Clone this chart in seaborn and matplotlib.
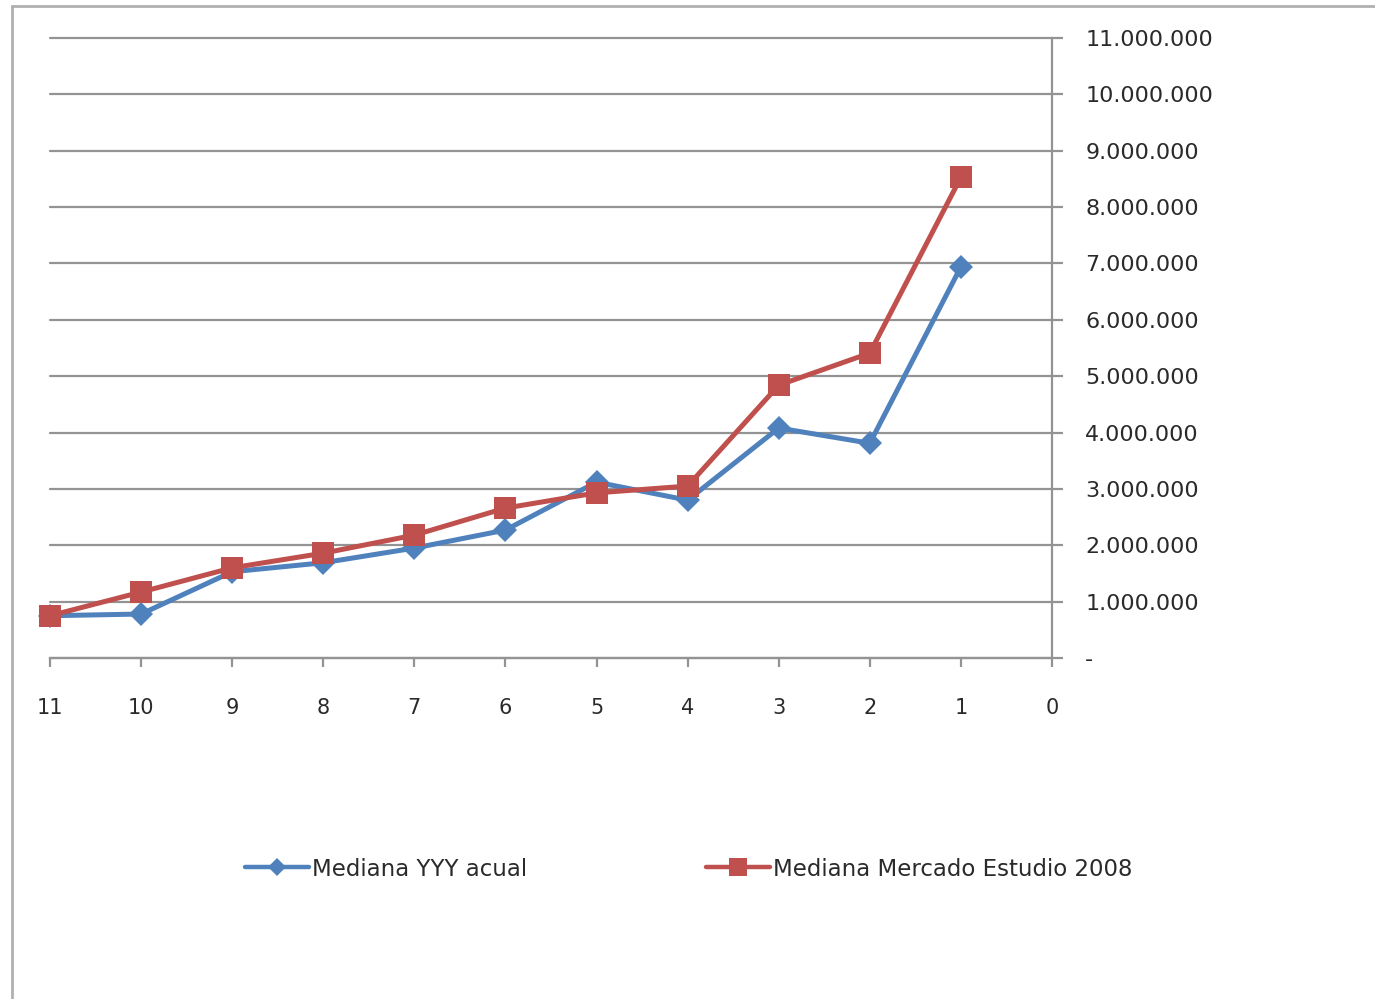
import matplotlib
matplotlib.use("Agg")
import matplotlib.pyplot as plt
from matplotlib.lines import Line2D
from matplotlib.ticker import FuncFormatter, FixedLocator
import pandas as pd
import seaborn as sns

# Periods counted backwards (11 -> 1) and the two medians per period
periodos = [11, 10, 9, 8, 7, 6, 5, 4, 3, 2, 1]
mediana_yyy = [750000, 780000, 1530000, 1690000, 1950000, 2270000,
               3120000, 2800000, 4080000, 3810000, 6940000]
mediana_mercado = [750000, 1170000, 1600000, 1860000, 2180000, 2660000,
                   2930000, 3050000, 4840000, 5410000, 8530000]
series = ["Mediana YYY acual", "Mediana Mercado Estudio 2008"]
x_ticks = [11, 10, 9, 8, 7, 6, 5, 4, 3, 2, 1, 0]
y_ticks = [0, 1000000, 2000000, 3000000, 4000000, 5000000, 6000000,
           7000000, 8000000, 9000000, 10000000, 11000000]

sns.set_theme(style="white")
plt.rcParams["font.family"] = ["DejaVu Sans"]

TEXT = "#2a2a2a"
GRID = "#939393"
BLUE = "#4F81BD"
RED = "#C0504D"

df = pd.DataFrame({
    "periodo": periodos * 2,
    "valor": mediana_yyy + mediana_mercado,
    "serie": [series[0]] * len(periodos) + [series[1]] * len(periodos),
})

W, H = 1375, 999
fig = plt.figure(figsize=(W / 100, H / 100), dpi=100)
ax = fig.add_axes([50 / W, 341 / H, 1002 / W, 620 / H])

sns.lineplot(
    data=df, x="periodo", y="valor", hue="serie", style="serie",
    palette={series[0]: BLUE, series[1]: RED},
    markers={series[0]: "D", series[1]: "s"}, dashes=False,
    linewidth=3.6, markeredgewidth=0, sort=False, legend=False, ax=ax,
)
sizes = [12.5, 15.5]
for line, ms in zip(ax.lines, sizes):
    line.set_markersize(ms)
    line.set_clip_on(False)
    line.set_zorder(3)

ax.set_xlim(11, 0)
ax.set_ylim(y_ticks[0], y_ticks[-1])
ax.xaxis.set_major_locator(FixedLocator(x_ticks))
ax.yaxis.set_major_locator(FixedLocator(y_ticks))
ax.yaxis.tick_right()
ax.yaxis.set_major_formatter(FuncFormatter(
    lambda v, _: "-" if v == 0 else f"{int(v):,}".replace(",", ".")))
ax.set_xlabel("")
ax.set_ylabel("")

ax.grid(axis="y", color=GRID, linewidth=1.6)
ax.grid(axis="x", visible=False)
for gl in ax.yaxis.get_gridlines():
    gl.set_clip_on(False)
for side in ("left", "top"):
    ax.spines[side].set_visible(False)
for side in ("right", "bottom"):
    ax.spines[side].set_color(GRID)
    ax.spines[side].set_linewidth(1.6)

ax.tick_params(axis="x", direction="out", length=6.5, width=1.6, color=GRID,
               pad=22, labelsize=15, labelcolor=TEXT, bottom=True)
ax.tick_params(axis="y", direction="out", length=8, width=1.6, color=GRID,
               pad=16, labelsize=16, labelcolor=TEXT, right=True, left=False)

# Legend below the plot: one entry per series
for (name, color, marker, ms, x0) in [
    (series[0], BLUE, "D", 9, 245),
    (series[1], RED, "s", 13, 706),
]:
    h = Line2D([], [], color=color, marker=marker, markersize=ms,
               linewidth=3.2, markeredgewidth=0)
    fig.legend([h], [name], loc="center left",
               bbox_to_anchor=(x0 / W, 130 / H), frameon=False,
               handlelength=2.8, handletextpad=0.12, borderpad=0,
               borderaxespad=0, fontsize=16.5, labelcolor=TEXT)

# Outer chart frame (left and top edges)
fig.add_artist(Line2D([12 / W, 12 / W], [0, 993 / H],
                      transform=fig.transFigure, color="#b0b0b0", lw=2))
fig.add_artist(Line2D([12 / W, 1], [993 / H, 993 / H],
                      transform=fig.transFigure, color="#b0b0b0", lw=2))

fig.savefig("out.png", dpi=100, facecolor="white")
